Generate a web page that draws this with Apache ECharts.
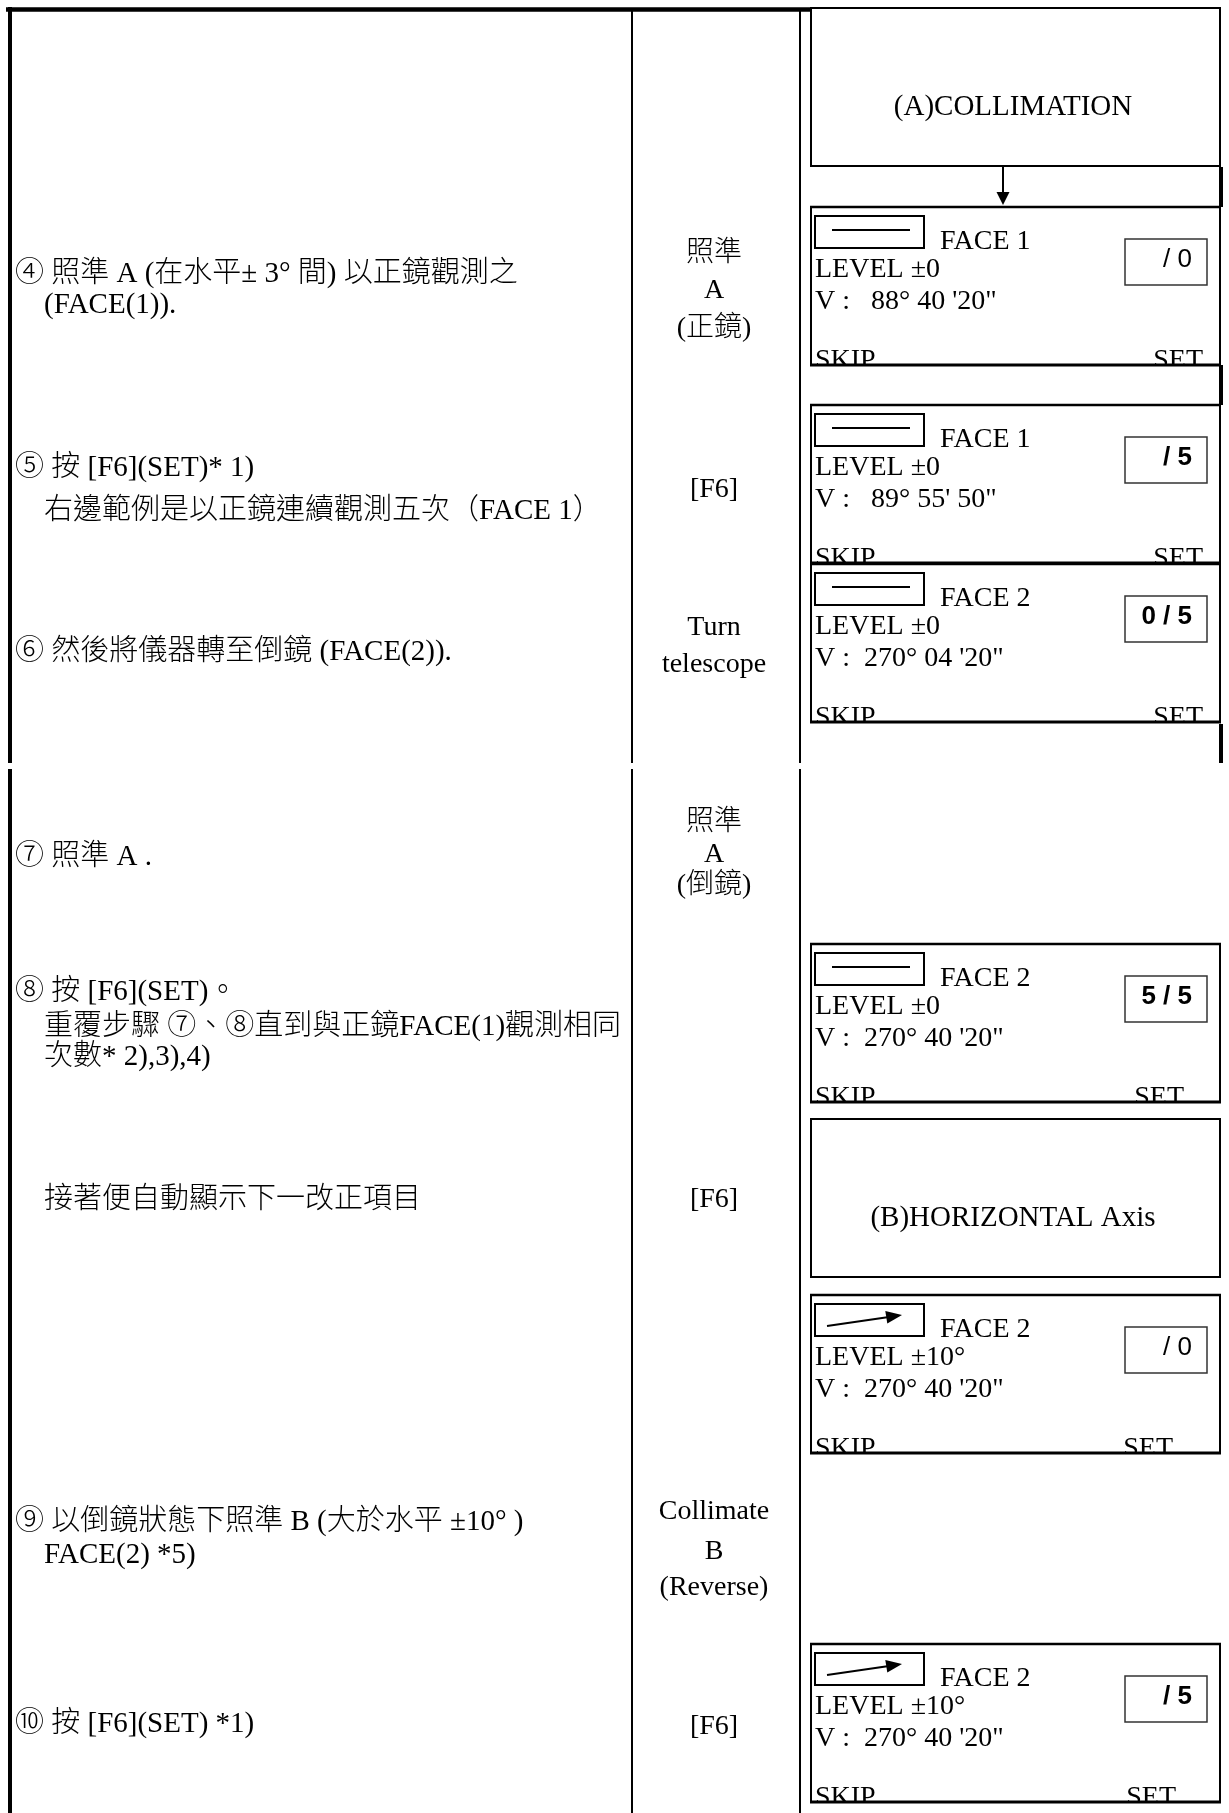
<!DOCTYPE html>
<html>
<head>
<meta charset="utf-8">
<script src="https://cdn.jsdelivr.net/npm/echarts@6/dist/echarts.min.js"></script>
<style>
html,body{margin:0;padding:0;background:#fff;}
#main{width:1229px;height:1813px;}
</style>
</head>
<body>
<div id="main"></div>
<script>
// ---------- content (text data) ----------
const stepLines = [
  '④ 照準 A (在水平± 3° 間) 以正鏡觀測之',
  '(FACE(1)).',
  '⑤ 按 [F6](SET)* 1)',
  '右邊範例是以正鏡連續觀測五次（FACE 1）',
  '⑥ 然後將儀器轉至倒鏡 (FACE(2)).',
  '⑦ 照準 A .',
  '⑧ 按 [F6](SET)。',
  '重覆步驟 ⑦、⑧直到與正鏡FACE(1)觀測相同',
  '次數* 2),3),4)',
  '接著便自動顯示下一改正項目',
  '⑨ 以倒鏡狀態下照準 B (大於水平 ±10° )',
  'FACE(2) *5)',
  '⑩ 按 [F6](SET) *1)'
];
const keyLines = ['照準', 'A', '(正鏡)', '[F6]', 'Turn', 'telescope', '照準', 'A', '(倒鏡)', '[F6]', 'Collimate', 'B', '(Reverse)', '[F6]'];
const titles = ['(A)COLLIMATION', '(B)HORIZONTAL Axis'];
const screenFace = ['FACE 1', 'FACE 1', 'FACE 2', 'FACE 2', 'FACE 2', 'FACE 2'];
const screenLevel = ['LEVEL ±0', 'LEVEL ±0', 'LEVEL ±0', 'LEVEL ±0', 'LEVEL ±10°', 'LEVEL ±10°'];
const screenV = ['V :   88° 40 \'20"', 'V :   89° 55\' 50"', 'V :  270° 04 \'20"', 'V :  270° 40 \'20"', 'V :  270° 40 \'20"', 'V :  270° 40 \'20"'];
const screenCount = ['/ 0', '/ 5', '0 / 5', '5 / 5', '/ 0', '/ 5'];
const screenIcon = ['flat', 'flat', 'flat', 'flat', 'arrow', 'arrow'];
const softKeys = ['SKIP', 'SET'];

// ---------- layout ----------
const stepIndent = [0, 1, 0, 1, 0, 0, 0, 1, 1, 1, 0, 1, 0];
const stepY = [274, 305, 468, 511, 652, 857, 992, 1027, 1057, 1200, 1522, 1555, 1724];
const keyY = [254, 291, 329, 490, 628, 665, 823, 855, 886, 1200, 1512, 1552, 1588, 1727];
const titleTop = [8, 1119];
const screenTop = [207, 405, 564, 944, 1295, 1644];
const setRight = [1203, 1203, 1203, 1184, 1173, 1176];
const countBold = [false, true, true, true, false, true];

const SERIF = "'Liberation Serif','Noto Sans CJK TC',serif";
const SANS = "'Liberation Sans',Arial,sans-serif";

function T(x, y, text, size, align, family, weight, z) {
  align = align || 'left';
  return {
    type: 'text', silent: true, z: z || 10,
    style: {
      x: x, y: y, text: text, fill: '#000',
      fontSize: size, fontFamily: family || SERIF, fontWeight: weight || 'normal',
      textAlign: align, textVerticalAlign: 'middle', align: align, verticalAlign: 'middle'
    }
  };
}
function L(x1, y1, x2, y2, w, z, color) {
  return { type: 'line', silent: true, z: z || 100, shape: { x1: x1, y1: y1, x2: x2, y2: y2 }, style: { stroke: color || '#000', lineWidth: w } };
}
function R(x, y, w, h, lw, z, fill, stroke) {
  return { type: 'rect', silent: true, z: z, shape: { x: x, y: y, width: w, height: h },
    style: { fill: fill || 'none', stroke: lw ? (stroke || '#000') : 'none', lineWidth: lw || 0 } };
}
function P(points, z) {
  return { type: 'polygon', silent: true, z: z, shape: { points: points }, style: { fill: '#000', stroke: 'none' } };
}

const els = [];

// page frame
const SPLIT_A = 763, SPLIT_B = 769, BOTTOM = 1813;
els.push(L(6, 9.5, 812, 9.5, 4.5, 100));
els.push(L(10, 7, 10, SPLIT_A, 4, 100));
els.push(L(10, SPLIT_B, 10, BOTTOM, 4, 100));
[632, 800].forEach(function (x) {
  els.push(L(x, 9, x, SPLIT_A, 2, 100));
  els.push(L(x, SPLIT_B, x, BOTTOM, 2, 100));
});
[[167, 207], [365, 405], [724, SPLIT_A]].forEach(function (s) {
  els.push(L(1221, s[0], 1221, s[1], 4, 100));
});

// step column
stepLines.forEach(function (s, i) {
  els.push(T(stepIndent[i] ? 44 : 15, stepY[i], s, 29, 'left', SERIF, 300));
});
// key column
keyLines.forEach(function (s, i) {
  els.push(T(714, keyY[i], s, 28, 'center', SERIF, 300));
});

// title panels
const BX = 811, BW = 409, BH = 158;
titles.forEach(function (t, i) {
  const top = titleTop[i];
  els.push(R(BX, top, BW, BH, 2, 60));
  els.push(T(1013, top + 99, t, 29, 'center', SERIF, 'normal', 60));
});
// arrow from title A to first screen
els.push(L(1003, 167, 1003, 194, 2, 60));
els.push(P([[996.5, 192], [1009.5, 192], [1003, 205]], 60));

// screens
screenTop.forEach(function (top, i) {
  const zc = 10 + i * 4;
  els.push(R(815, top + 9, 109, 32, 2, zc));
  if (screenIcon[i] === 'flat') {
    els.push(L(832, top + 23, 910, top + 23, 2, zc));
  } else {
    els.push(L(827, top + 31, 889, top + 22, 2, zc));
    els.push(P([[902, top + 20], [885.3, top + 16], [887.3, top + 28.5]], zc));
  }
  els.push(T(940, top + 35, screenFace[i], 28, 'left', SERIF, 'normal', zc));
  els.push(T(815, top + 63, screenLevel[i], 28, 'left', SERIF, 'normal', zc));
  els.push(T(815, top + 95, screenV[i], 28, 'left', SERIF, 'normal', zc));
  els.push(R(1125, top + 32, 82, 46, 1.5, zc, 'none', '#333'));
  els.push(T(1192, top + 53, screenCount[i], 26, 'right', SANS, countBold[i] ? 'bold' : 'normal', zc));
  els.push(T(815, top + 154, softKeys[0], 28, 'left', SERIF, 'normal', zc));
  els.push(T(setRight[i], top + 154, softKeys[1], 28, 'right', SERIF, 'normal', zc));
  // clip overflow of soft keys below the frame
  els.push(R(BX, top + BH + 1, BW, 8, 0, zc + 1, '#fff'));
  // frame
  els.push(L(810, top, 1221, top, 2.5, zc + 2));
  els.push(L(810, top + BH, 1221, top + BH, 3, zc + 2));
  els.push(L(811, top, 811, top + BH, 2, zc + 2));
  els.push(L(1220, top, 1220, top + BH, 2, zc + 2));
});

const chart = echarts.init(document.getElementById('main'), null, { renderer: 'canvas', width: 1229, height: 1813 });
chart.setOption({
  backgroundColor: '#fff',
  animation: false,
  graphic: { elements: els }
});
</script>
</body>
</html>
